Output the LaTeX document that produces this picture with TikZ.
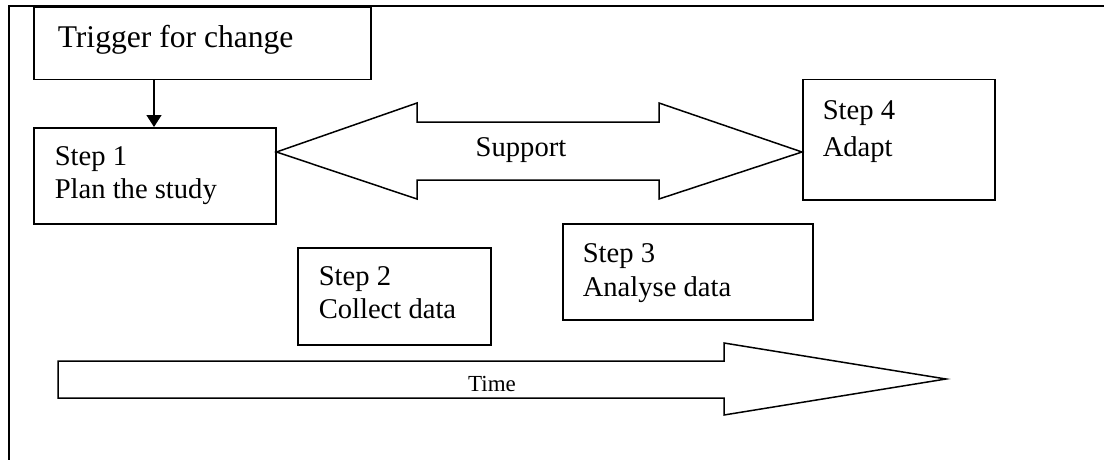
\documentclass[tikz,border=0pt]{standalone}
\usepackage{fontspec}
\setmainfont{Liberation Serif}
\usetikzlibrary{arrows.meta,positioning}

\begin{document}
\begin{tikzpicture}[x=1pt,y=-1pt,line width=1.5pt,
	box/.style={draw,rectangle,anchor=north west,inner sep=0pt},
	steptext/.style={anchor=base west,align=left,inner sep=0pt,
		font=\fontsize{28.6}{33.5}\selectfont},
	flow/.style={-{Triangle[length=12pt,width=15pt]}}]
	\useasboundingbox (0,0) rectangle (1104,460);
	\draw (9,460) -- (9,6) -- (1104,6);
	\node[box,minimum width=337pt,minimum height=72pt] (trigger) at (33,7) {};
	\node[box,minimum width=242pt,minimum height=96pt] (step_1) at (33,127) {};
	\node[box,minimum width=193pt,minimum height=97pt] (step_2) at (297,247) {};
	\node[box,minimum width=250pt,minimum height=96pt] (step_3) at (562,223) {};
	\node[box,minimum width=192pt,minimum height=120pt] (step_4) at (802,79) {};
	\node[anchor=base west,inner sep=0pt,font=\fontsize{31.6}{36}\selectfont]
		(t_trigger) at ([shift={(24,41)}]trigger.north west) {Trigger for change};
	\node[steptext] (t_1) at ([shift={(21,71.5)}]step_1.north west) {Step 1\\Plan the study};
	\node[steptext] (t_2) at ([shift={(21,71.5)}]step_2.north west) {Step 2\\Collect data};
	\node[steptext] (t_3) at ([shift={(20,73)}]step_3.north west) {Step 3\\Analyse data};
	\node[steptext,font=\fontsize{28.6}{38}\selectfont] (t_4) at ([shift={(20,78)}]step_4.north west) {Step 4\\Adapt};
	\coordinate (down) at (154,0);
	\draw[flow] (down |- trigger.south) -- (down |- step_1.north);
	\coordinate (sup_l) at (step_1.east |- 0,152);
	\coordinate (sup_r) at (step_4.west |- 0,152);
	\draw[line join=miter] (sup_l) -- (417,103) -- (417,122) -- (659,122) -- (659,103)
		-- (sup_r) -- (659,199) -- (659,180) -- (417,180) -- (417,199) -- cycle;
	\node[anchor=base,inner sep=0pt,font=\fontsize{28.6}{33}\selectfont] (support) at (521,157) {Support};
	\draw[line join=miter] (58,361) -- (724,361) -- (724,343) -- (946,379)
		-- (724,415) -- (724,398) -- (58,398) -- cycle;
	\node[anchor=base,inner sep=0pt,font=\fontsize{23}{27}\selectfont] (time) at (492,391) {Time};
\end{tikzpicture}
\end{document}
